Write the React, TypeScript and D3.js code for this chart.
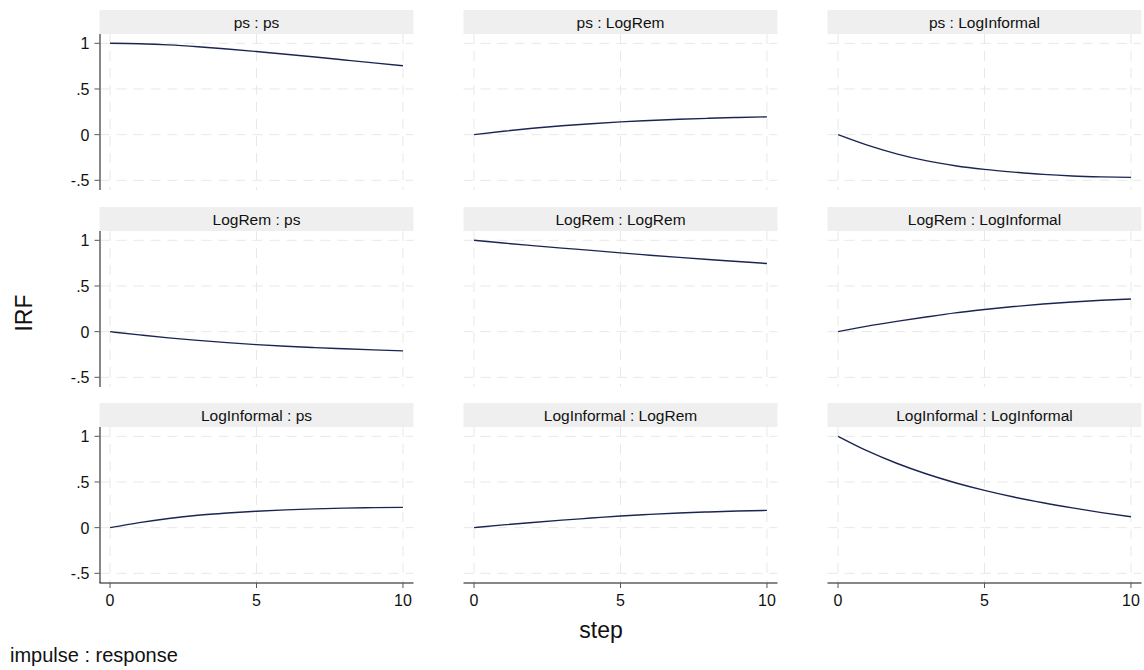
import React from "react";
import * as d3 from "d3";

const steps = [0, 1, 2, 3, 4, 5, 6, 7, 8, 9, 10];
const variables = ["ps", "LogRem", "LogInformal"];

// impulse : response series
const ps_ps = [1.0, 0.995, 0.983, 0.963, 0.938, 0.91, 0.881, 0.85, 0.818, 0.786, 0.755];
const ps_LogRem = [0, 0.037, 0.07, 0.097, 0.12, 0.14, 0.155, 0.168, 0.179, 0.188, 0.195];
const ps_LogInformal = [0, -0.115, -0.21, -0.285, -0.34, -0.38, -0.41, -0.435, -0.452, -0.462, -0.468];
const LogRem_ps = [0, -0.035, -0.068, -0.095, -0.12, -0.142, -0.16, -0.175, -0.188, -0.2, -0.21];
const LogRem_LogRem = [1.0, 0.97, 0.942, 0.915, 0.89, 0.862, 0.837, 0.813, 0.79, 0.768, 0.746];
const LogRem_LogInformal = [0, 0.06, 0.112, 0.16, 0.205, 0.242, 0.275, 0.302, 0.325, 0.344, 0.358];
const LogInformal_ps = [0, 0.055, 0.1, 0.135, 0.16, 0.18, 0.195, 0.206, 0.214, 0.219, 0.222];
const LogInformal_LogRem = [0, 0.03, 0.057, 0.082, 0.105, 0.128, 0.145, 0.16, 0.172, 0.182, 0.189];
const LogInformal_LogInformal = [1.0, 0.84, 0.705, 0.59, 0.492, 0.408, 0.335, 0.272, 0.216, 0.165, 0.12];

const seriesGrid = [
  [ps_ps, ps_LogRem, ps_LogInformal],
  [LogRem_ps, LogRem_LogRem, LogRem_LogInformal],
  [LogInformal_ps, LogInformal_LogRem, LogInformal_LogInformal],
];

const yTicks = [1, 0.5, 0, -0.5];
const yTickLabels = ["1", ".5", "0", "-.5"];
const xTicks = [0, 5, 10];

const FONT = "'Liberation Sans', Arial, Helvetica, sans-serif";

const colLeft = [99.5, 463.5, 827.5];
const panelW = 314;
const rowTop = [10, 207, 403];
const headerH = 24;
const plotH = 156;

export default function App() {
  const panels: React.ReactNode[] = [];
  seriesGrid.forEach((row, r) => {
    row.forEach((vals, c) => {
      const left = colLeft[c];
      const top = rowTop[r] + headerH;
      const x = d3.scaleLinear().domain([-0.36, 10.36]).range([left, left + panelW]);
      const y = d3.scaleLinear().domain([-0.606, 1.102]).range([top + plotH, top]);
      const line = d3
        .line<number>()
        .x((_, i) => x(steps[i]))
        .y((v) => y(v))
        .curve(d3.curveMonotoneX);
      panels.push(
        <g key={`${r}-${c}`}>
          <rect x={left} y={rowTop[r]} width={panelW} height={headerH} fill="#efefef" />
          <text
            x={left + panelW / 2}
            y={rowTop[r] + 18}
            textAnchor="middle"
            fontSize={15.5}
            fontFamily={FONT}
            fill="#111"
          >
            {`${variables[r]} : ${variables[c]}`}
          </text>
          {yTicks.map((t) => (
            <line
              key={`gy${t}`}
              x1={left}
              x2={left + panelW}
              y1={y(t)}
              y2={y(t)}
              stroke="#e8e8e8"
              strokeWidth={1}
              strokeDasharray="10,7"
            />
          ))}
          {xTicks.map((t) => (
            <line
              key={`gx${t}`}
              x1={x(t)}
              x2={x(t)}
              y1={top}
              y2={top + plotH}
              stroke="#e8e8e8"
              strokeWidth={1}
              strokeDasharray="10,7"
            />
          ))}
          <path d={line(vals) || ""} fill="none" stroke="#1c2552" strokeWidth={1.4} />
          {c === 0 && (
            <g>
              <line x1={left + 0.5} x2={left + 0.5} y1={top} y2={top + plotH} stroke="#7a7a7a" strokeWidth={1.8} />
              {yTicks.map((t, i) => (
                <g key={`yt${t}`}>
                  <line x1={left - 5} x2={left} y1={y(t)} y2={y(t)} stroke="#555" strokeWidth={1} />
                  <text
                    x={left - 10}
                    y={y(t) + 6}
                    textAnchor="end"
                    fontSize={16}
                    fontFamily={FONT}
                    fill="#111"
                  >
                    {yTickLabels[i]}
                  </text>
                </g>
              ))}
            </g>
          )}
          {r === 2 && (
            <g>
              <line x1={left} x2={left + panelW} y1={top + plotH} y2={top + plotH} stroke="#111" strokeWidth={1.2} />
              {xTicks.map((t) => (
                <g key={`xt${t}`}>
                  <line x1={x(t)} x2={x(t)} y1={top + plotH} y2={top + plotH + 5} stroke="#555" strokeWidth={1} />
                  <text
                    x={x(t)}
                    y={top + plotH + 22.5}
                    textAnchor="middle"
                    fontSize={16}
                    fontFamily={FONT}
                    fill="#111"
                  >
                    {t}
                  </text>
                </g>
              ))}
            </g>
          )}
        </g>
      );
    });
  });

  return (
    <svg
      width={1144}
      height={670}
      style={{ position: "absolute", left: 0, top: 0, background: "#fff" }}
    >
      <rect x={0} y={0} width={1144} height={670} fill="#fff" />
      {panels}
      <text
        x={32}
        y={313}
        transform="rotate(-90 32 313)"
        textAnchor="middle"
        fontSize={23}
        fontFamily={FONT}
        fill="#111"
      >
        IRF
      </text>
      <text x={601} y={638} textAnchor="middle" fontSize={23} fontFamily={FONT} fill="#111">
        step
      </text>
      <text x={10} y={662} fontSize={20} fontFamily={FONT} fill="#111">
        impulse : response
      </text>
    </svg>
  );
}
